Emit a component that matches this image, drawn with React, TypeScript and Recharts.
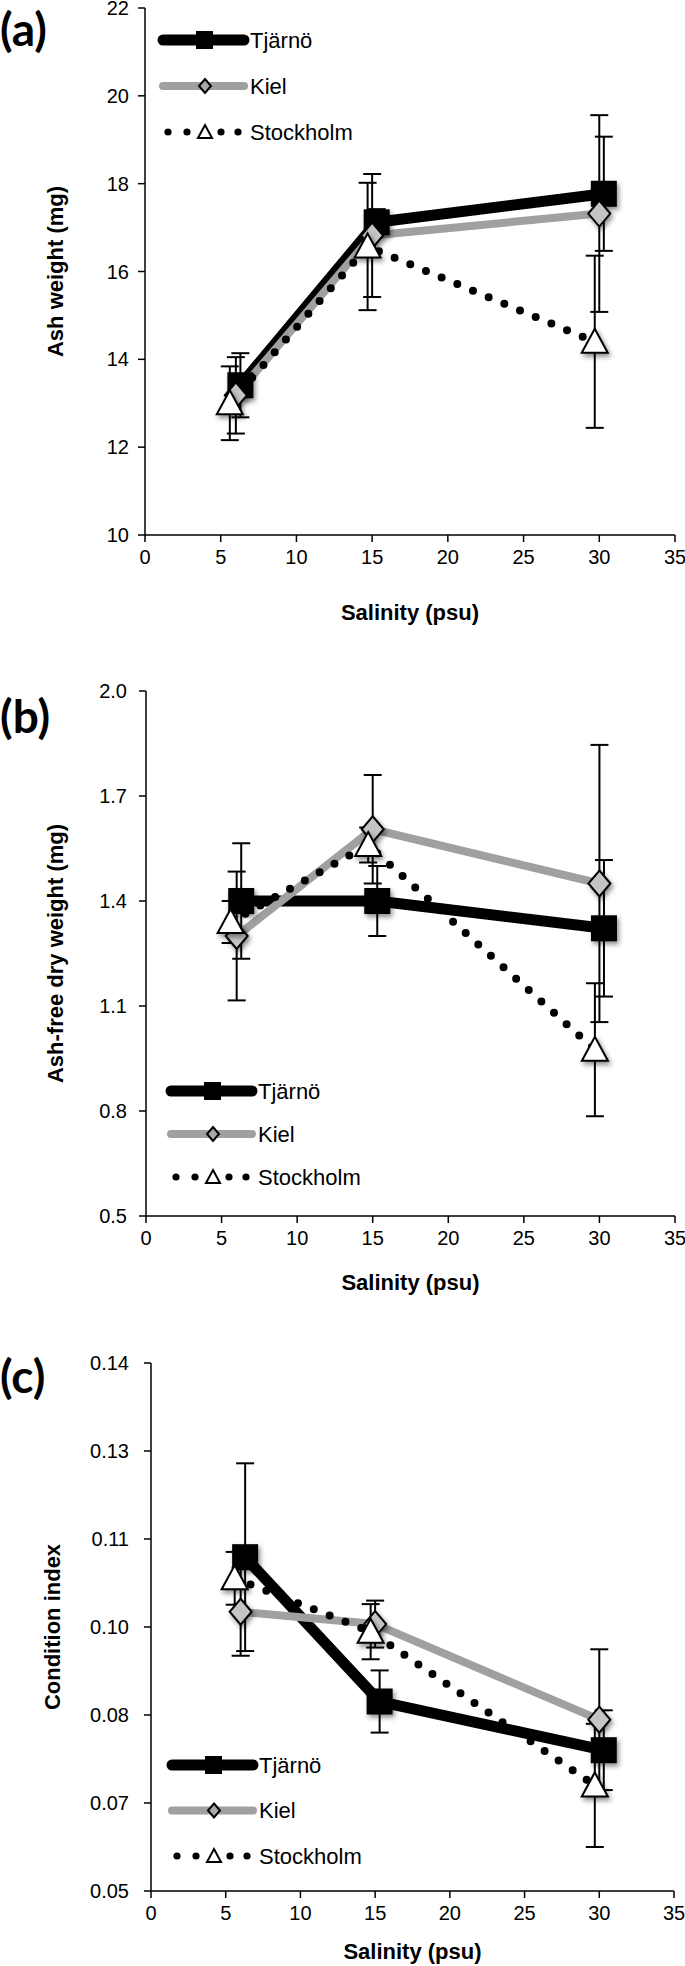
import React from 'react';
import { LineChart, Line, XAxis, YAxis, ErrorBar, Legend } from 'recharts';

const FONT = '"Liberation Sans", Arial, Helvetica, sans-serif';

// categories / x positions (salinity, psu) as plotted for each population
const salinityTicks = [0, 5, 10, 15, 20, 25, 30, 35];
const xTjarno = [6.3, 15.3, 30.3];
const xKiel = [6.0, 15.0, 30.0];
const xStockholm = [5.6, 14.7, 29.7];
const seriesNames = ['Tjärnö', 'Kiel', 'Stockholm'];

// (a) Ash weight (mg)
const ashTjarno = [13.41, 17.12, 17.77];
const ashTjarnoErr = [0.73, 0.3, 1.3];
const ashKiel = [13.18, 16.82, 17.32];
const ashKielErr = [0.87, 1.4, 2.24];
const ashStockholm = [13.0, 16.57, 14.4];
const ashStockholmErr = [0.84, 1.45, 1.96];
const ashTicks = [10, 12, 14, 16, 18, 20, 22];

// (b) Ash-free dry weight (mg)
const afdwTjarno = [1.4, 1.4, 1.322];
const afdwTjarnoErr = [0.165, 0.1, 0.195];
const afdwKiel = [1.3, 1.605, 1.45];
const afdwKielErr = [0.184, 0.155, 0.396];
const afdwStockholm = [1.34, 1.56, 0.975];
const afdwStockholmErr = [0.06, 0.05, 0.19];
const afdwTicks = [0.5, 0.8, 1.1, 1.4, 1.7, 2.0];
const afdwTickLabels = ['0.5', '0.8', '1.1', '1.4', '1.7', '2.0'];

// (c) Condition index
const ciTjarno = [0.1069, 0.0823, 0.074];
const ciTjarnoErr = [0.016, 0.0053, 0.0068];
const ciKiel = [0.0976, 0.0955, 0.0792];
const ciKielErr = [0.0075, 0.004, 0.012];
const ciStockholm = [0.1033, 0.0942, 0.068];
const ciStockholmErr = [0.0045, 0.0047, 0.0105];
const ciTicks = [0.05, 0.065, 0.08, 0.095, 0.11, 0.125, 0.14];
const ciTickLabels = ['0.05', '0.07', '0.08', '0.10', '0.11', '0.13', '0.14'];

const makeData = (xs: number[], ys: number[], errs: number[]) =>
  xs.map((x, i) => ({ x, y: ys[i], err: errs[i] }));

const renderSquare = (p: any) =>
  p.cx == null ? null : (
    <rect key={`sq-${p.index}`} x={p.cx - 13} y={p.cy - 13} width={26} height={26} fill="#000" filter="url(#mshadow)" />
  );
const renderDiamond = (p: any) =>
  p.cx == null ? null : (
    <polygon
      key={`dm-${p.index}`}
      points={`${p.cx},${p.cy - 13} ${p.cx + 11},${p.cy} ${p.cx},${p.cy + 13} ${p.cx - 11},${p.cy}`}
      fill="#c4c4c4"
      stroke="#000"
      strokeWidth={2}
      filter="url(#mshadow)"
    />
  );
const renderTriangle = (p: any) =>
  p.cx == null ? null : (
    <polygon
      key={`tr-${p.index}`}
      points={`${p.cx},${p.cy - 13} ${p.cx + 13},${p.cy + 11} ${p.cx - 13},${p.cy + 11}`}
      fill="#fff"
      stroke="#000"
      strokeWidth={2}
      filter="url(#mshadow)"
    />
  );

const LegendBox = ({ gap }: { gap: number }) => {
  const r = [16, 16 + gap, 16 + 2 * gap];
  const txt = { fontSize: 22, fontFamily: FONT, fill: '#000' } as any;
  return (
    <svg width={240} height={r[2] + 20} style={{ display: 'block', overflow: 'visible' }}>
      <line x1={6} x2={87} y1={r[0]} y2={r[0]} stroke="#000" strokeWidth={11} strokeLinecap="round" />
      <rect x={39} y={r[0] - 9} width={17} height={18} fill="#000" />
      <text x={93} y={r[0]} dy="0.36em" {...txt}>{seriesNames[0]}</text>
      <line x1={6} x2={87} y1={r[1]} y2={r[1]} stroke="#a0a0a0" strokeWidth={8} strokeLinecap="round" />
      <polygon points={`48,${r[1] - 7} 54,${r[1]} 48,${r[1] + 7} 42,${r[1]}`} fill="#a8a8a8" stroke="#000" strokeWidth={2} />
      <text x={93} y={r[1]} dy="0.36em" {...txt}>{seriesNames[1]}</text>
      {[11, 30, 64, 81].map((cx) => (
        <circle key={cx} cx={cx} cy={r[2]} r={3.6} fill="#000" />
      ))}
      <polygon points={`48,${r[2] - 7} 55,${r[2] + 6} 41,${r[2] + 6}`} fill="#fff" stroke="#000" strokeWidth={2} />
      <text x={93} y={r[2]} dy="0.36em" {...txt}>{seriesNames[2]}</text>
    </svg>
  );
};

type PanelProps = {
  top: number;
  height: number;
  margin: { top: number; right: number; bottom: number; left: number };
  yAxisWidth: number;
  xAxisHeight: number;
  yDomain: [number, number];
  yTicks: number[];
  yTickLabels?: string[];
  yTickMargin: number;
  yTitle: string;
  yTitleX: number;
  xTitleDy: number;
  t: any[];
  k: any[];
  s: any[];
  legendLeft: number;
  legendTop: number;
  legendGap: number;
  letter: string;
  letterTop: number;
};

const Panel = (p: PanelProps) => {
  const fmt = (v: number) => {
    if (!p.yTickLabels) return String(v);
    const i = p.yTicks.findIndex((tv) => Math.abs(tv - v) < 1e-9);
    return i >= 0 ? p.yTickLabels[i] : String(v);
  };
  const tickStyle = { fill: '#000', fontSize: 20, fontFamily: FONT };
  const lineStyle = { stroke: '#000', strokeWidth: 1.5 };
  return (
    <div style={{ position: 'absolute', left: 0, top: p.top, width: 685, height: p.height }}>
      <LineChart width={685} height={p.height} margin={p.margin}>
        <XAxis
          type="number"
          dataKey="x"
          domain={[0, 35]}
          ticks={salinityTicks}
          interval={0}
          height={p.xAxisHeight}
          tick={tickStyle}
          tickLine={lineStyle}
          axisLine={lineStyle}
          tickSize={7}
          tickMargin={8}
          label={{
            value: 'Salinity (psu)',
            content: (lp: any) => {
              const vb = lp.viewBox || {};
              return (
                <text
                  x={vb.x + vb.width / 2}
                  y={vb.y + p.xTitleDy}
                  textAnchor="middle"
                  dy="0.36em"
                  fontSize={22}
                  fontWeight="bold"
                  fontFamily={FONT}
                  fill="#000"
                >
                  Salinity (psu)
                </text>
              );
            },
          }}
        />
        <XAxis xAxisId="top" orientation="top" type="number" domain={[0, 35]} height={0} tick={false} tickLine={false} axisLine={lineStyle} />
        <YAxis
          type="number"
          domain={p.yDomain}
          ticks={p.yTicks}
          interval={0}
          width={p.yAxisWidth}
          tick={tickStyle}
          tickFormatter={fmt}
          tickLine={lineStyle}
          axisLine={lineStyle}
          tickSize={7}
          tickMargin={p.yTickMargin}
          label={{
            value: p.yTitle,
            content: (lp: any) => {
              const vb = lp.viewBox || {};
              const cy = vb.y + vb.height / 2;
              return (
                <text
                  x={p.yTitleX}
                  y={cy}
                  transform={`rotate(-90 ${p.yTitleX} ${cy})`}
                  textAnchor="middle"
                  dy="0.36em"
                  fontSize={22}
                  fontWeight="bold"
                  fontFamily={FONT}
                  fill="#000"
                >
                  {p.yTitle}
                </text>
              );
            },
          }}
        />
        <YAxis yAxisId="right" orientation="right" type="number" domain={[0, 1]} width={0} tick={false} tickLine={false} axisLine={lineStyle} />
        <Legend
          layout="vertical"
          align="center"
          verticalAlign="middle"
          wrapperStyle={{ left: p.legendLeft, top: p.legendTop, width: 240 }}
          content={() => <LegendBox gap={p.legendGap} />}
        />
        <Line
          data={p.t}
          dataKey="y"
          type="linear"
          stroke="#000"
          strokeWidth={11}
          strokeLinejoin="round"
          dot={renderSquare}
          activeDot={false}
          isAnimationActive={false}
        >
          <ErrorBar dataKey="err" direction="y" width={9} stroke="#000" strokeWidth={2} />
        </Line>
        <Line
          data={p.k}
          dataKey="y"
          type="linear"
          stroke="#a0a0a0"
          strokeWidth={8}
          strokeLinejoin="round"
          dot={renderDiamond}
          activeDot={false}
          isAnimationActive={false}
        >
          <ErrorBar dataKey="err" direction="y" width={9} stroke="#000" strokeWidth={2} />
        </Line>
        <Line
          data={p.s}
          dataKey="y"
          type="linear"
          stroke="#000"
          strokeWidth={8}
          strokeDasharray="0 17"
          strokeLinecap="round"
          dot={renderTriangle}
          activeDot={false}
          isAnimationActive={false}
        >
          <ErrorBar dataKey="err" direction="y" width={9} stroke="#000" strokeWidth={2} />
        </Line>
      </LineChart>
      <div
        style={{
          position: 'absolute',
          left: 0,
          top: p.letterTop,
          fontFamily: 'Lato, "Open Sans", sans-serif',
          fontWeight: 700,
          fontSize: 46,
          lineHeight: '50px',
          color: '#000',
        }}
      >
        {p.letter}
      </div>
    </div>
  );
};

export default function App() {
  return (
    <div style={{ position: 'absolute', left: 0, top: 0, width: 685, height: 1966, background: '#fff' }}>
      <svg width={0} height={0} style={{ position: 'absolute' }}>
        <defs>
          <filter id="mshadow" x="-60%" y="-60%" width="220%" height="220%">
            <feDropShadow dx="2" dy="3" stdDeviation="2.5" floodColor="#000" floodOpacity="0.45" />
          </filter>
        </defs>
      </svg>
      <Panel
        top={0}
        height={640}
        margin={{ top: 8, right: 10, bottom: 0, left: 0 }}
        yAxisWidth={145}
        xAxisHeight={105}
        yDomain={[10, 22]}
        yTicks={ashTicks}
        yTickMargin={9}
        yTitle="Ash weight (mg)"
        yTitleX={55}
        xTitleDy={77}
        t={makeData(xTjarno, ashTjarno, ashTjarnoErr)}
        k={makeData(xKiel, ashKiel, ashKielErr)}
        s={makeData(xStockholm, ashStockholm, ashStockholmErr)}
        legendLeft={157}
        legendTop={24}
        legendGap={46}
        letter="(a)"
        letterTop={4}
      />
      <Panel
        top={640}
        height={680}
        margin={{ top: 51, right: 10, bottom: 0, left: 0 }}
        yAxisWidth={146}
        xAxisHeight={104}
        yDomain={[0.5, 2.0]}
        yTicks={afdwTicks}
        yTickLabels={afdwTickLabels}
        yTickMargin={12}
        yTitle="Ash-free dry weight (mg)"
        yTitleX={55}
        xTitleDy={66}
        t={makeData(xTjarno, afdwTjarno, afdwTjarnoErr)}
        k={makeData(xKiel, afdwKiel, afdwKielErr)}
        s={makeData(xStockholm, afdwStockholm, afdwStockholmErr)}
        legendLeft={165}
        legendTop={435}
        legendGap={43}
        letter="(b)"
        letterTop={51}
      />
      <Panel
        top={1320}
        height={646}
        margin={{ top: 43, right: 11, bottom: 0, left: 0 }}
        yAxisWidth={151}
        xAxisHeight={75}
        yDomain={[0.05, 0.14]}
        yTicks={ciTicks}
        yTickLabels={ciTickLabels}
        yTickMargin={15}
        yTitle="Condition index"
        yTitleX={52}
        xTitleDy={60}
        t={makeData(xTjarno, ciTjarno, ciTjarnoErr)}
        k={makeData(xKiel, ciKiel, ciKielErr)}
        s={makeData(xStockholm, ciStockholm, ciStockholmErr)}
        legendLeft={166}
        legendTop={429}
        legendGap={45.5}
        letter="(c)"
        letterTop={31}
      />
    </div>
  );
}
